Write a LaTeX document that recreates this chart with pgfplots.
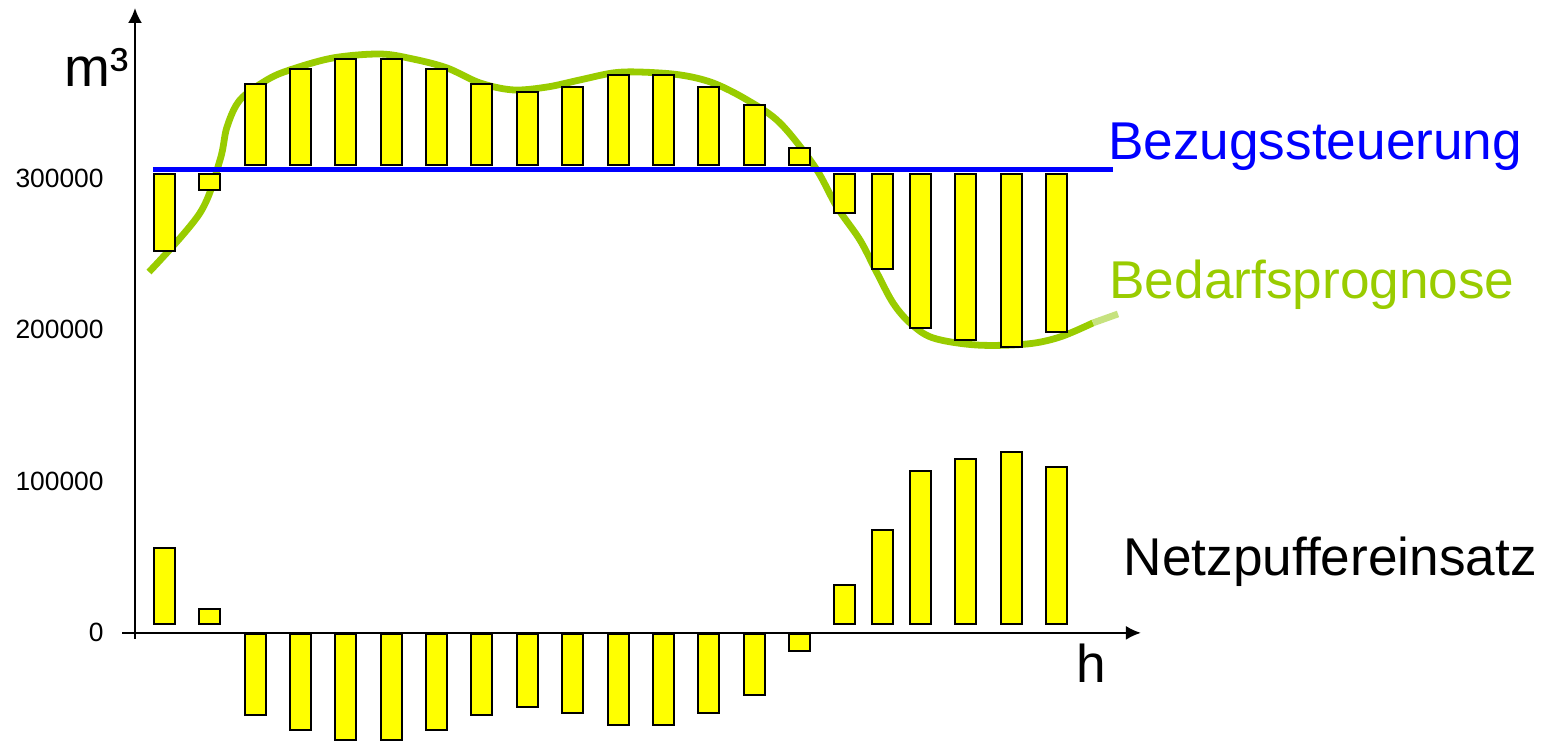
\documentclass[border=0pt]{standalone}
\usepackage{fontspec}
\setmainfont{Liberation Sans}
\usepackage{pgfplots}
\usepackage{pgfplotstable}
\pgfplotsset{compat=1.18}
\usetikzlibrary{arrows.meta}

\definecolor{prognose}{HTML}{99CC00}
\definecolor{prognosehell}{HTML}{C6E27F}
\definecolor{balken}{HTML}{FFFF00}

% h = hour slot
% lb/lt = Netzpuffereinsatz bar (bottom/top), ub/ut = gap bar between Bezug and Prognose
\pgfplotstableread{
h      lb      lt      ub      ut
0      5800    55800   252300  302600
1      5800    15800   292100  302600
2     -54400  -1000    309000  362300
3     -64100  -1000    309000  372200
4     -70600  -1000    309000  378800
5     -70600  -1000    309000  378800
6     -64100  -1000    309000  372000
7     -54400  -1000    309000  362500
8     -48700  -1000    309000  356800
9     -52700  -1000    309000  360500
10    -60600  -1000    309000  368400
11    -60600  -1000    309000  368400
12    -52700  -1000    309000  360500
13    -40800  -1000    309000  348700
14    -11700  -1000    309000  319900
15     5800    31600   277000  302600
15.83  5800    67900   240400  302600
16.67  5800    106900  201500  302600
17.67  5800    114600  193300  302600
18.67  5800    119400  188900  302600
19.67  5800    109500  198600  302600
}\bars

\pgfplotsset{
  frame/.style={
    scale only axis, width=503pt, height=315.5pt,
    xmin=-0.6505, xmax=21.532,
    clip=false,
  },
}
\tikzset{lbl/.style={anchor=base west, inner sep=0pt, font=\fontsize{26.6}{30}\selectfont}}

\begin{document}
\begin{tikzpicture}
  \begin{axis}[frame, ymin=-4026, ymax=412478,
      axis x line*=middle, axis y line*=left,
      axis line style={line width=1.1pt, -{Latex[length=7.5pt,width=7pt]}},
      x axis line style={shorten <=-6.25pt},
      xtick=\empty,
      ytick={0,100000,200000,300000},
      yticklabels={0,100000,200000,300000},
      scaled y ticks=false,
      major tick length=0pt,
      hide obscured y ticks=false,
      yticklabel style={font=\fontsize{13.2}{15}\selectfont, anchor=east, inner sep=0pt, xshift=-15.5pt},
    ]
    % Bedarfsprognose
    \addplot[prognose, line width=3.4pt, smooth, tension=0.55] coordinates {
      (-0.342,238200) (0.783,277200) (1.224,312100)
      (1.378,333900) (1.665,351800) (2.260,365000) (2.767,371600) (3.715,379500)
      (4.752,382100) (5.479,378800) (6.229,372900) (6.957,363000) (7.685,358400)
      (8.435,360300) (9.162,365000) (9.890,369600) (10.485,370200) (11.367,368300)
      (12.095,363000) (12.845,351800) (13.572,336600) (14.344,307500)
      (14.829,281100) (15.336,259300) (15.711,237600) (16.064,217800) (16.439,204600)
      (16.946,194700) (17.916,190000) (19.019,190700) (19.746,195300) (20.474,204600)
    };
    \addplot[prognosehell, line width=3.4pt] coordinates {(20.474,204600) (21.025,210500)};
    % Bezugssteuerung
    \addplot[blue, line width=2.8pt] coordinates {(-0.254,305900) (20.908,305900)};

    \node[lbl, text=blue] at (axis cs:20.798,312200) {Bezugssteuerung};
    \node[lbl, text=prognose] at (axis cs:20.827,220400) {Bedarfsprognose};
    \node[lbl] at (axis cs:21.141,37560) {Netzpuffereinsatz};
    \node[lbl] at (axis cs:20.098,-32870) {h};
    \node[lbl, font=\fontsize{27.5}{32}\selectfont] at (axis cs:-2.208,360530) {m³};

    % page frame
    \path (axis cs:-3.6273,-70694) rectangle (axis cs:30.728,417758);
  \end{axis}

  % bars: all values lifted by 100000 so that the invisible stack base stays positive
  \begin{axis}[frame, hide axis, ymin=95974, ymax=512478,
      ybar stacked, bar width=10.5pt]
    \addplot[draw=none, fill=none] table[x=h, y expr=\thisrow{lb}+100000] {\bars};
    \addplot[draw=black, line width=1pt, fill=balken] table[x=h, y expr=\thisrow{lt}-\thisrow{lb}] {\bars};
    \addplot[draw=none, fill=none] table[x=h, y expr=\thisrow{ub}-\thisrow{lt}] {\bars};
    \addplot[draw=black, line width=1pt, fill=balken] table[x=h, y expr=\thisrow{ut}-\thisrow{ub}] {\bars};
  \end{axis}
\end{tikzpicture}
\end{document}
